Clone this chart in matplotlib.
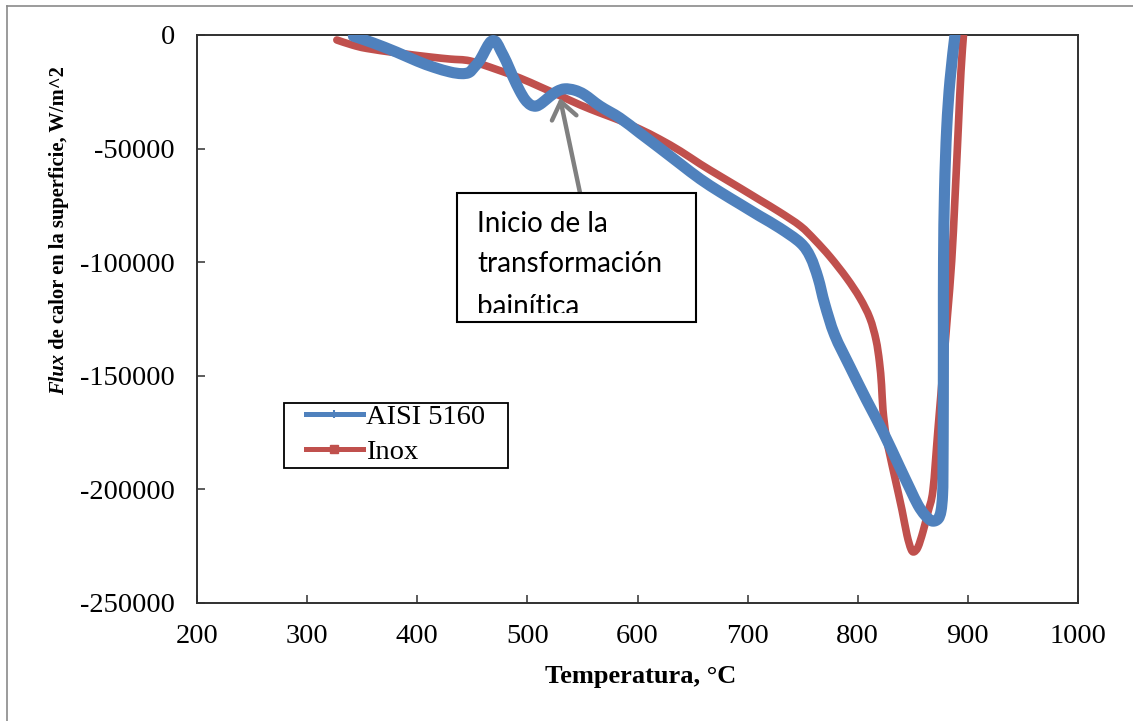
import numpy as np
import matplotlib
matplotlib.use("Agg")
import matplotlib.pyplot as plt
from matplotlib.lines import Line2D
from matplotlib.patches import Rectangle, PathPatch
from matplotlib.path import Path
from matplotlib.transforms import Bbox
from matplotlib.ticker import FixedFormatter

plt.rcParams["axes.unicode_minus"] = False

# Surface heat flux during quenching, W/m^2, versus surface temperature, °C
temp_aisi = [342, 360, 381, 400, 415, 430, 440, 447, 452, 457, 462, 466, 469,
             472, 476, 481, 487, 493, 498, 503, 508, 513, 520, 527, 534, 543,
             552, 566, 584, 602, 620, 639, 657, 675, 693, 711, 729, 748, 757,
             764, 770, 779, 793, 808, 823, 838, 847.5, 854.7, 861, 867.4,
             872.9, 875.6, 877, 877.4, 877.7, 877.8, 877.9, 878.8, 880.8,
             883.8, 888.3]
flux_aisi = [-500, -3500, -7500, -11500, -14200, -16300, -17000, -16500,
             -14000, -11000, -6500, -3300, -2500, -3300, -7000, -11800, -18500,
             -24500, -28500, -30800, -31300, -30000, -27200, -24800, -23700,
             -24300, -26300, -31300, -36500, -43100, -49700, -56800, -63400,
             -69100, -74400, -79700, -84900, -91500, -97700, -107000, -118400,
             -132000, -146100, -160700, -174700, -190100, -199800, -206900,
             -211300, -213900, -213000, -209500, -202500, -191500, -160700,
             -129800, -99500, -68200, -40900, -19800, 0]

temp_inox = [327, 341, 354, 382, 412, 430, 448, 471, 493, 512, 530, 548, 566,
             584, 602, 620, 639, 657, 675, 693, 711, 729, 748, 761, 775, 790,
             802, 811, 816.6, 819.7, 821.6, 822.9, 825.6, 829.2, 833.8, 840.2,
             844.7, 848.3, 851, 854.7, 859.2, 863.8, 868.3, 872.8, 877.4,
             881.5, 885.3, 888.3, 891.3, 893.7, 896]
flux_inox = [-2200, -4400, -5900, -7900, -9700, -10600, -11400, -15000,
             -18900, -22900, -26800, -30800, -34300, -37600, -41400, -45800,
             -51100, -56800, -62100, -67300, -72600, -77900, -84100, -90200,
             -97700, -107000, -115800, -124600, -134200, -143900, -154000,
             -165000, -176100, -184900, -195000, -209100, -220100, -226200,
             -227500, -225400, -218700, -209900, -200300, -173900, -147400,
             -123200, -99500, -71700, -40900, -16300, 0]

series_labels = ["AISI 5160", "Inox"]
x_ticks = [200, 300, 400, 500, 600, 700, 800, 900, 1000]
y_ticks = [0, -50000, -100000, -150000, -200000, -250000]
note_lines = ["Inicio de la", "transformación", "bainítica"]
note_tip = (529.6, -27700)
note_tail = (547.8, -69500)

BLUE = "#4F81BD"
RED = "#C0504D"
SERIF = "Liberation Serif"

W, H = 1133, 721
fig = plt.figure(figsize=(W / 100, H / 100), dpi=100)


def fx(px):
    return px / W


def fy(py):
    return 1 - py / H


def smoothed_path(xs, ys):
    """Smoothed line through the points (Catmull-Rom as cubic Bezier)."""
    pts = np.column_stack([xs, ys]).astype(float)
    n = len(pts)
    verts = [pts[0]]
    codes = [Path.MOVETO]
    for i in range(n - 1):
        p0 = pts[i - 1] if i > 0 else pts[i]
        p1, p2 = pts[i], pts[i + 1]
        p3 = pts[i + 2] if i + 2 < n else pts[i + 1]
        verts += [p1 + (p2 - p0) / 6, p2 - (p3 - p1) / 6, p2]
        codes += [Path.CURVE4] * 3
    return Path(verts, codes)


# outer chart frame (left and top edges)
fig.add_artist(Line2D([fx(7), fx(7)], [fy(721), fy(6)], color="#8a8a8a", lw=1.2))
fig.add_artist(Line2D([fx(7), fx(1133)], [fy(6), fy(6)], color="#8a8a8a", lw=1.2))

ax = fig.add_axes([fx(197), fy(603), (1078 - 197) / W, (603 - 35) / H])
ax.add_patch(PathPatch(smoothed_path(temp_inox, flux_inox), facecolor="none",
                       edgecolor=RED, lw=5.5, capstyle="round",
                       joinstyle="round", zorder=3))
ax.add_patch(PathPatch(smoothed_path(temp_aisi, flux_aisi), facecolor="none",
                       edgecolor=BLUE, lw=8, capstyle="round",
                       joinstyle="round", zorder=4))

ax.set_xlim(200, 1000)
ax.set_ylim(-250000, 0)
ax.set_xticks(x_ticks)
ax.set_yticks(y_ticks)
ax.xaxis.set_major_formatter(FixedFormatter([str(v) for v in x_ticks]))
ax.yaxis.set_major_formatter(FixedFormatter([str(v) for v in y_ticks]))
ax.tick_params(axis="both", direction="in", length=6, width=1.1,
               color="#303030", labelsize=20.5)
ax.tick_params(axis="y", pad=16)
ax.tick_params(axis="x", pad=15)
for lab in ax.get_xticklabels() + ax.get_yticklabels():
    lab.set_family(SERIF)
for s in ax.spines.values():
    s.set_linewidth(1.4)
    s.set_color("#303030")

# axis titles
fig.text(fx(641), fy(676), "Temperatura, °C", family=SERIF, weight="bold",
         size=19, ha="center", va="center")

renderer = fig.canvas.get_renderer()
t1 = fig.text(fx(64), fy(395), "Flux", family=SERIF, weight="bold",
              style="italic", size=14.8, rotation=90, rotation_mode="anchor",
              ha="left", va="baseline")
bb = t1.get_window_extent(renderer)
fig.text(fx(64), bb.y1 / H, " de calor en la superficie, W/m^2", family=SERIF,
         weight="bold", size=14.8, rotation=90, rotation_mode="anchor",
         ha="left", va="baseline")

# legend
fig.add_artist(Rectangle((fx(284), fy(468)), (508 - 284) / W, (468 - 403) / H,
                         transform=fig.transFigure, facecolor="white",
                         edgecolor="black", lw=1.3, zorder=5))
handles = [Line2D([], [], color=BLUE, lw=3.6, marker="+", ms=6, mew=1.5),
           Line2D([], [], color=RED, lw=3.6, marker="s", ms=6)]
leg = fig.legend(handles, series_labels, loc="upper left",
                 bbox_to_anchor=(fx(306), fy(404)), frameon=False,
                 prop=dict(family=SERIF, size=20.5), handlelength=2.0,
                 handletextpad=0.1, borderpad=0, labelspacing=0.32,
                 borderaxespad=0)
leg.set_zorder(6)

# callout
ax.annotate("", xy=note_tip, xytext=note_tail, zorder=6,
            arrowprops=dict(arrowstyle="->,head_length=0.6,head_width=0.45",
                            color="#808080", lw=3.2, shrinkA=0, shrinkB=0,
                            mutation_scale=20))
fig.add_artist(Rectangle((fx(457), fy(322)), (696 - 457) / W, (322 - 193) / H,
                         transform=fig.transFigure, facecolor="white",
                         edgecolor="black", lw=1.5, zorder=7))
clip = Bbox([[457, H - 313], [696, H - 193]])
baselines = [232, 272, 315]
for line, base in zip(note_lines, baselines):
    t = fig.text(fx(477), fy(base), line, family="Lato", size=20,
                 ha="left", va="baseline", zorder=8)
    t.set_clip_box(clip)
    t.set_clip_on(True)

fig.savefig("out.png", dpi=100)
